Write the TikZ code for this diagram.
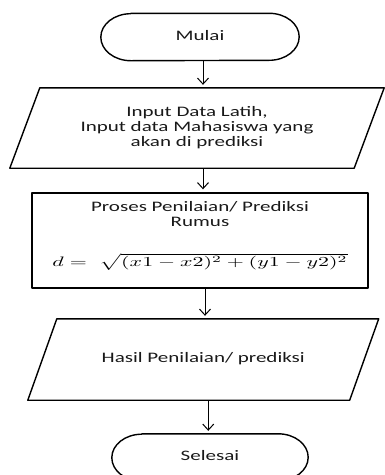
\documentclass[tikz,border=0pt]{standalone}
\usepackage{fontspec}
\setmainfont{Carlito}
\usepackage{graphicx}
\usetikzlibrary{arrows.meta}
\newcommand{\lebar}[1]{\scalebox{1.45}[1]{\begin{tabular}{@{}c@{}}#1\end{tabular}}}
\begin{document}
\begin{tikzpicture}[x=1pt,y=-1pt,
        box/.style={line width=1.4pt,line join=round},
        arr/.style={line width=1pt,-{Straight Barb[length=6pt,width=11pt]},shorten >=3pt},
        txt/.style={inner sep=0pt,align=center,font=\fontsize{14.5}{15}\selectfont,text=black!90}]
        \useasboundingbox (0,0) rectangle (385,475);
        %% start
        \node[txt,minimum width=198pt,minimum height=47pt] (mulai) at (200,37) {\lebar{Mulai}};
        \draw[box] ([xshift=30pt]mulai.north west) -- ([xshift=-30pt]mulai.north east)
            arc[start angle=90,end angle=-90,x radius=30pt,y radius=23.5pt]
            -- ([xshift=30pt]mulai.south west)
            arc[start angle=270,end angle=90,x radius=30pt,y radius=23.5pt] -- cycle;
        %% input
        \node[txt,minimum width=344pt,minimum height=80pt] (input) at (197,128)
            {\lebar{Input Data Latih,\\Input data Mahasiswa yang\\akan di prediksi}};
        \draw[box] ([xshift=15pt]input.north west) -- ([xshift=15pt]input.north east)
            -- ([xshift=-15pt]input.south east) -- ([xshift=-15pt]input.south west) -- cycle;
        %% process
        \node[box,draw,minimum width=336pt,minimum height=95pt] (proses) at (200,240.5) {};
        \node[txt] (judul) at (200,216) {\lebar{Proses Penilaian/ Prediksi\\Rumus}};
        \node[inner sep=0pt] (rumus) at (200,262)
            {\resizebox*{295pt}{17pt}{$d =\; \sqrt{(x1-x2)^2+(y1-y2)^2}$}};
        %% output
        \node[txt,minimum width=321.5pt,minimum height=81pt] (hasil) at (203.25,359.5)
            {\lebar{Hasil Penilaian/ prediksi}};
        \draw[box] ([xshift=14.5pt]hasil.north west) -- ([xshift=14.5pt]hasil.north east)
            -- ([xshift=-14.5pt]hasil.south east) -- ([xshift=-14.5pt]hasil.south west) -- cycle;
        %% end
        \node[txt,minimum width=196pt,minimum height=47pt] (selesai) at (210,457.5) {\lebar{Selesai}};
        \draw[box] ([xshift=30pt]selesai.north west) -- ([xshift=-30pt]selesai.north east)
            arc[start angle=90,end angle=-90,x radius=30pt,y radius=23.5pt]
            -- ([xshift=30pt]selesai.south west)
            arc[start angle=270,end angle=90,x radius=30pt,y radius=23.5pt] -- cycle;
        %% flow
        \draw[arr] ([xshift=3pt]mulai.south) -- ([xshift=3pt]mulai.south |- input.north);
        \draw[arr] ([xshift=6pt]input.south) -- ([xshift=6pt]input.south |- proses.north);
        \draw[arr] ([xshift=5pt]proses.south) -- ([xshift=5pt]proses.south |- hasil.north);
        \draw[arr] ([xshift=5pt]hasil.south) -- ([xshift=5pt]hasil.south |- selesai.north);
    \end{tikzpicture}
\end{document}
